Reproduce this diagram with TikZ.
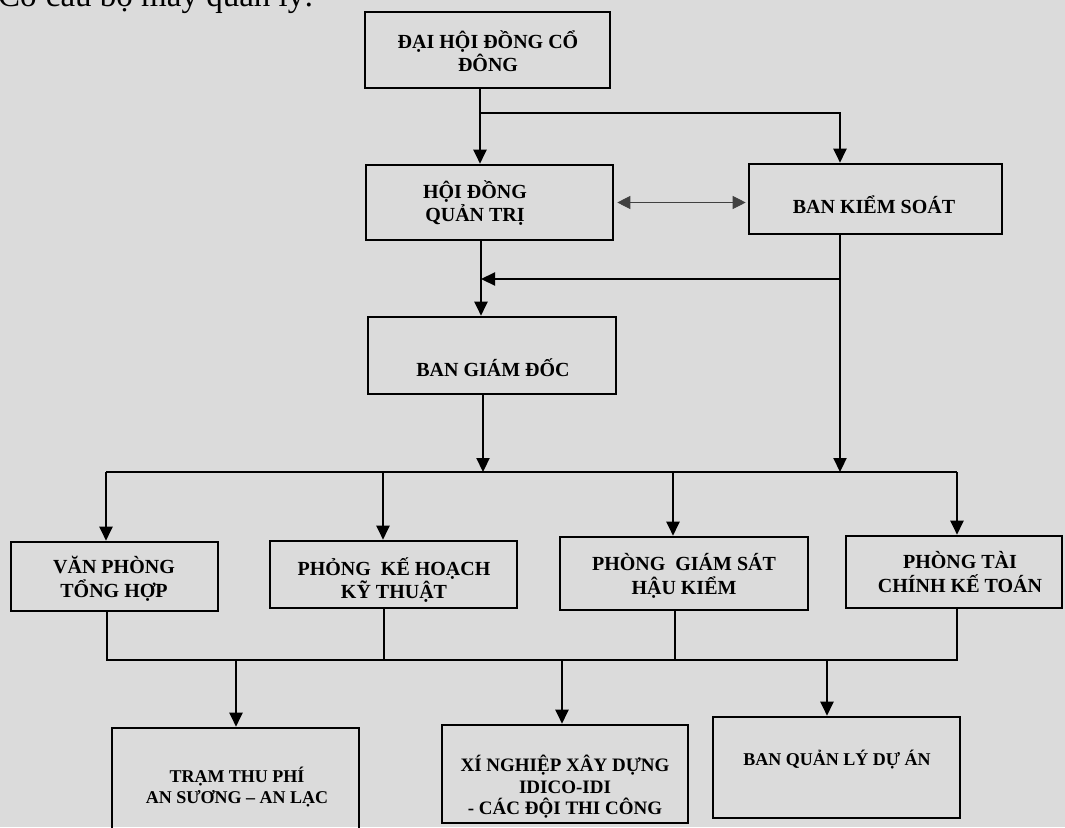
\documentclass[tikz,border=0pt]{standalone}
\usepackage{fontspec}
\setmainfont{Liberation Serif}
\usetikzlibrary{arrows.meta,calc}
\definecolor{bg}{gray}{0.86}
\begin{document}
\begin{tikzpicture}[x=1pt,y=-1pt,
  box/.style={draw, line width=2.6pt, inner sep=0pt, rectangle},
  lbl/.style={font=\bfseries\fontsize{20}{23.5}\selectfont, align=center, inner sep=0pt},
  lbls/.style={font=\bfseries\fontsize{18}{20.5}\selectfont, align=center, inner sep=0pt},
  conn/.style={line width=2.2pt},
  arr/.style={conn, -{Triangle[length=14pt,width=13pt]}},
  dbl/.style={line width=0.9pt, black!75, {Triangle[length=13pt,width=13pt]}-{Triangle[length=13pt,width=13pt]}, shorten <=3pt, shorten >=2pt},
]
\fill[bg] (0,0) rectangle (1065,827);
\useasboundingbox (0,0) rectangle (1065,827);

\node[anchor=base west, inner sep=0pt, font=\fontsize{33}{36}\selectfont] (title) at (-2,6) {Cơ cấu bộ máy quản lý:};

% boxes
\node[box, minimum width=245pt, minimum height=76pt] (dh) at (487.5,50) {};
\node[box, minimum width=247pt, minimum height=75pt] (hdqt) at (489.5,202.5) {};
\node[box, minimum width=253pt, minimum height=70pt] (bks) at (875.5,199) {};
\node[box, minimum width=248pt, minimum height=77pt] (bgd) at (492,355.5) {};
\node[box, minimum width=207pt, minimum height=69pt] (vp) at (114.5,576.5) {};
\node[box, minimum width=247pt, minimum height=67pt] (pkh) at (393.5,574.5) {};
\node[box, minimum width=248pt, minimum height=73pt] (pgs) at (684,573.5) {};
\node[box, minimum width=216pt, minimum height=72pt] (ptc) at (954,572) {};
\node[box, minimum width=247pt, minimum height=104pt] (tram) at (235.5,780) {};
\node[box, minimum width=246pt, minimum height=98pt] (xn) at (565,774) {};
\node[box, minimum width=247pt, minimum height=101pt] (bql) at (836.5,767.5) {};

% texts
\node[lbl] (dht) at (488,51) {ĐẠI HỘI ĐỒNG CỔ\\ĐÔNG};
\node[lbl] (hdqtt) at (475,203) {HỘI ĐỒNG\\QUẢN TRỊ};
\node[lbl] (bkst) at (874,205) {BAN KIỂM SOÁT};
\node[lbl] (bgdt) at (493,368) {BAN GIÁM ĐỐC};
\node[lbl] (vpt) at (114,579) {VĂN PHÒNG\\TỔNG HỢP};
\node[lbl] (pkht) at (394,580) {PHỎNG\ \ KẾ HOẠCH\\KỸ THUẬT};
\node[lbl] (pgst) at (684,576) {PHÒNG\ \ GIÁM SÁT\\HẬU KIỂM};
\node[lbl] (ptct) at (960,572) {PHÒNG TÀI\\CHÍNH KẾ TOÁN};
\node[lbls] (tramt) at (237,787) {TRẠM THU PHÍ\\AN SƯƠNG – AN LẠC};
\node[lbls, font=\bfseries\fontsize{19}{21.5}\selectfont] (xnt) at (565,787) {XÍ NGHIỆP XÂY DỰNG\\IDICO-IDI\\- CÁC ĐỘI THI CÔNG};
\node[lbls] (bqlt) at (837,760) {BAN QUẢN LÝ DỰ ÁN};

% junction coordinates
\coordinate (j1) at (480,113);
\coordinate (j2) at (840,113);
\coordinate (j3) at (840,279);
\coordinate (j4) at (481,279);
\coordinate (xg) at (483,0);
\coordinate (bvp) at (106,472);
\coordinate (bpk) at (383,472);
\coordinate (bpg) at (673,472);
\coordinate (bpt) at (957,472);
\coordinate (bbg) at (483,472);
\coordinate (bks2) at (840,472);
\coordinate (lvp) at (107,660);
\coordinate (lpk) at (384,660);
\coordinate (lpg) at (675,660);
\coordinate (lpt) at (957,660);
\coordinate (ltr) at (236,660);
\coordinate (lxn) at (562,660);
\coordinate (lbq) at (827,660);

% connectors
\draw[arr] (dh.south -| j1) -- (hdqt.north -| j1);
\draw[arr] (j1) -- (j2) -- (bks.north -| j2);
\draw[dbl] (hdqt.east) -- (bks.west |- hdqt.east);
\draw[arr] (hdqt.south -| j4) -- (bgd.north -| j4);
\draw[arr] (bks.south -| j3) -- (bks2);
\draw[arr] (j3) -- (j4);
\draw[arr] (bgd.south -| xg) -- (bbg);
\draw[conn] (bvp) -- (bpt);
\draw[arr] (bvp) -- (vp.north -| bvp);
\draw[arr] (bpk) -- (pkh.north -| bpk);
\draw[arr] (bpg) -- (pgs.north -| bpg);
\draw[arr] (bpt) -- (ptc.north -| bpt);
\draw[conn] (vp.south -| lvp) -- (lvp) -- (lpt) -- (ptc.south -| lpt);
\draw[conn] (pkh.south -| lpk) -- (lpk);
\draw[conn] (pgs.south -| lpg) -- (lpg);
\draw[arr] (ltr) -- (tram.north -| ltr);
\draw[arr] (lxn) -- (xn.north -| lxn);
\draw[arr] (lbq) -- (bql.north -| lbq);
\end{tikzpicture}
\end{document}
